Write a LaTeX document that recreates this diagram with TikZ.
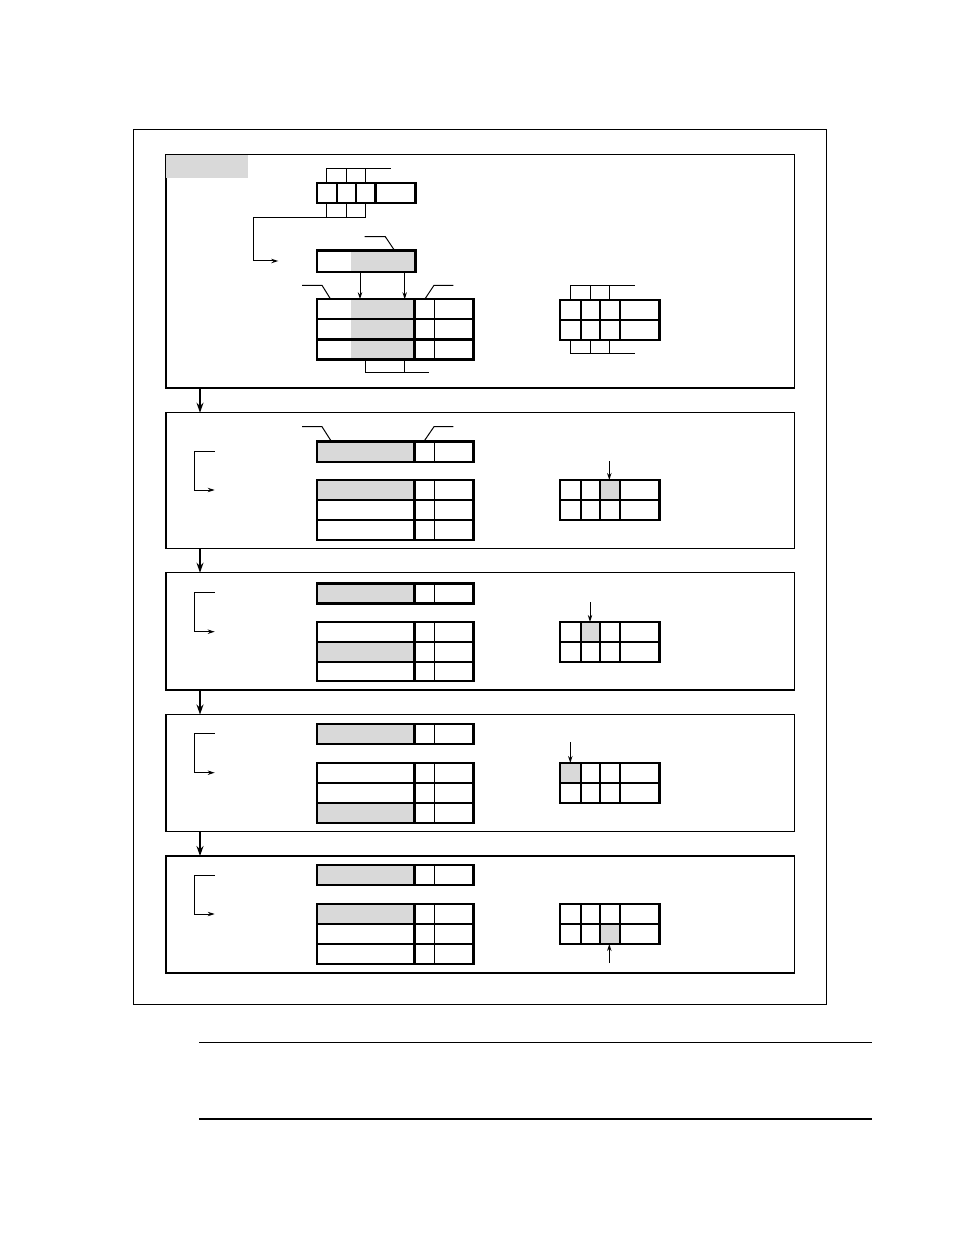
\documentclass[tikz,border=0pt]{standalone}
\usetikzlibrary{arrows.meta}
\definecolor{regshade}{gray}{0.85}
\tikzset{
  heavy/.style={line width=1.2pt},
  light/.style={line width=0.5pt},
  panelbox/.style={draw,line width=0.7pt,inner sep=0pt,outer sep=0pt,
    anchor=north west,minimum width=314.15pt},
  flow/.style={line width=0.7pt,-{Stealth[length=5pt,width=3.5pt]}},
  tick/.style={line width=0.5pt,-{Stealth[length=3.5pt,width=2.2pt]}},
}
\begin{document}
\begin{tikzpicture}[x=0.5pt,y=-0.5pt]
\useasboundingbox (0,0) rectangle (954,1235);
% frame and panels
\draw[line width=0.5pt] (133.3,129.7) rectangle (826.7,1004);
\node[panelbox,minimum height=116.85pt] (p1) at (166,154.3) {};
\node[panelbox,minimum height=68pt] (p2) at (166,412.7) {};
\node[panelbox,minimum height=58.65pt] (p3) at (166,572.7) {};
\node[panelbox,minimum height=58.6pt] (p4) at (166,714.5) {};
\node[panelbox,minimum height=58.5pt] (p5) at (166,856) {};
\fill[regshade] (166.4,154.7) rectangle (248,178);
\coordinate (ax) at (200,0);
\draw[flow] (p1.south -| ax) -- (p2.north -| ax);
\draw[flow] (p2.south -| ax) -- (p3.north -| ax);
\draw[flow] (p3.south -| ax) -- (p4.north -| ax);
\draw[flow] (p4.south -| ax) -- (p5.north -| ax);
% shading
\fill[regshade] (350.7,250.7) rectangle (414.5,272);
\fill[regshade] (350.7,299.3) rectangle (414.5,359.3);
\fill[regshade] (316.7,441.3) rectangle (414.5,462);
\fill[regshade] (316.7,480) rectangle (414.5,500);
\fill[regshade] (316.7,583.3) rectangle (414.5,603.3);
\fill[regshade] (316.7,641.7) rectangle (414.5,661.7);
\fill[regshade] (316.7,724) rectangle (414.5,744);
\fill[regshade] (316.7,803) rectangle (414.5,823);
\fill[regshade] (316.7,865) rectangle (414.5,885);
\fill[regshade] (316.7,904) rectangle (414.5,924);
\fill[regshade] (600,480) rectangle (620,500);
\fill[regshade] (580.7,622) rectangle (600,642);
\fill[regshade] (560,763) rectangle (580.7,783);
\fill[regshade] (600,924) rectangle (620,944);
% panel 1
\draw[heavy] (316.7,183) rectangle (415.3,203.3);
\draw[heavy] (336.7,183) -- (336.7,203.3) (356,183) -- (356,203.3) (375.3,183) -- (375.3,203.3);
\draw[light] (326.7,183) -- (326.7,168.3) -- (390.7,168.3) (346,183) -- (346,168.3) (365.3,183) -- (365.3,168.3);
\draw[light] (326.7,203.3) -- (326.7,217.3) (346,203.3) -- (346,217.3);
\coordinate (sel) at (365.3,203.3);
\coordinate (selend) at (278.3,261);
\draw[tick] (sel) -- (365.3,217.3) -- (253.3,217.3) -- (253.3,261) -- (selend);
\draw[heavy] (316.7,250.7) rectangle (415.3,272);
\draw[light] (364.7,236.7) -- (385.3,236.7) -- (394.7,250.7);
\coordinate (r1a) at (360,272);
\coordinate (r1b) at (404.7,272);
\coordinate (t1a) at (360,299.3);
\coordinate (t1b) at (404.7,299.3);
\draw[tick] (r1a) -- (t1a);
\draw[tick] (r1b) -- (t1b);
\draw[heavy] (316.7,299.3) rectangle (473.3,359.3);
\draw[heavy] (316.7,319.3) -- (473.3,319.3) (316.7,339.3) -- (473.3,339.3) (414.5,299.3) -- (414.5,359.3);
\draw[light] (434,299.3) -- (434,359.3);
\draw[light] (302,285.3) -- (322,285.3) -- (330.7,299.3);
\draw[light] (453.3,285.3) -- (434,285.3) -- (424.7,299.3);
\draw[light] (365.3,359.3) -- (365.3,372.7) -- (429.3,372.7) (404.7,359.3) -- (404.7,372.7);
\draw[heavy] (560,300) rectangle (659.3,340);
\draw[heavy] (560,320) -- (659.3,320) (580.7,300) -- (580.7,340) (600,300) -- (600,340) (620,300) -- (620,340);
\draw[light] (570.7,300) -- (570.7,285.7) -- (635,285.7) (590,300) -- (590,285.7) (609.3,300) -- (609.3,285.7);
\draw[light] (570.7,340) -- (570.7,353.3) -- (635,353.3) (590,340) -- (590,353.3) (609.3,340) -- (609.3,353.3);
% panel 2
\draw[light] (302,426.7) -- (322,426.7) -- (331.3,441.3);
\draw[light] (453.3,426.7) -- (434,426.7) -- (424,441.3);
\draw[heavy] (316.7,441.3) rectangle (473.3,462) (414.5,441.3) -- (414.5,462);
\draw[light] (434,441.3) -- (434,462);
\draw[heavy] (316.7,480) rectangle (473.3,540);
\draw[heavy] (316.7,500) -- (473.3,500) (316.7,520) -- (473.3,520) (414.5,480) -- (414.5,540);
\draw[light] (434,480) -- (434,540);
\coordinate (b2) at (214.7,490);
\draw[tick] (214.7,451.3) -- (194.7,451.3) -- (194.7,490) -- (b2);
\draw[heavy] (560,480) rectangle (659.3,520);
\draw[heavy] (560,500) -- (659.3,500) (580.7,480) -- (580.7,520) (600,480) -- (600,520) (620,480) -- (620,520);
\coordinate (g2) at (609.3,480);
\draw[tick] (609.3,461) -- (g2);
% panel 3
\draw[heavy] (316.7,583.3) rectangle (473.3,603.3) (414.5,583.3) -- (414.5,603.3);
\draw[light] (434,583.3) -- (434,603.3);
\draw[heavy] (316.7,621.7) rectangle (473.3,681);
\draw[heavy] (316.7,641.7) -- (473.3,641.7) (316.7,661.7) -- (473.3,661.7) (414.5,621.7) -- (414.5,681);
\draw[light] (434,621.7) -- (434,681);
\coordinate (b3) at (214.7,631.7);
\draw[tick] (214.7,592.3) -- (194.7,592.3) -- (194.7,631.7) -- (b3);
\draw[heavy] (560,622) rectangle (659.3,662);
\draw[heavy] (560,642) -- (659.3,642) (580.7,622) -- (580.7,662) (600,622) -- (600,662) (620,622) -- (620,662);
\coordinate (g3) at (590,622);
\draw[tick] (590,602) -- (g3);
% panel 4
\draw[heavy] (316.7,724) rectangle (473.3,744) (414.5,724) -- (414.5,744);
\draw[light] (434,724) -- (434,744);
\draw[heavy] (316.7,763) rectangle (473.3,823);
\draw[heavy] (316.7,783) -- (473.3,783) (316.7,803) -- (473.3,803) (414.5,763) -- (414.5,823);
\draw[light] (434,763) -- (434,823);
\coordinate (b4) at (214.7,772.7);
\draw[tick] (214.7,733.3) -- (194.7,733.3) -- (194.7,772.7) -- (b4);
\draw[heavy] (560,763) rectangle (659.3,803);
\draw[heavy] (560,783) -- (659.3,783) (580.7,763) -- (580.7,803) (600,763) -- (600,803) (620,763) -- (620,803);
\coordinate (g4) at (570.3,763);
\draw[tick] (570.3,742) -- (g4);
% panel 5
\draw[heavy] (316.7,865) rectangle (473.3,885) (414.5,865) -- (414.5,885);
\draw[light] (434,865) -- (434,885);
\draw[heavy] (316.7,904) rectangle (473.3,964);
\draw[heavy] (316.7,924) -- (473.3,924) (316.7,944) -- (473.3,944) (414.5,904) -- (414.5,964);
\draw[light] (434,904) -- (434,964);
\coordinate (b5) at (214.7,914);
\draw[tick] (214.7,875) -- (194.7,875) -- (194.7,914) -- (b5);
\draw[heavy] (560,904) rectangle (659.3,944);
\draw[heavy] (560,924) -- (659.3,924) (580.7,904) -- (580.7,944) (600,904) -- (600,944) (620,904) -- (620,944);
\coordinate (g5) at (609.3,944);
\draw[tick] (609.3,963) -- (g5);
% rules below
\draw[line width=0.6pt] (199,1042.3) -- (872,1042.3);
\draw[line width=0.6pt] (199,1119) -- (872,1119);
\end{tikzpicture}
\end{document}
